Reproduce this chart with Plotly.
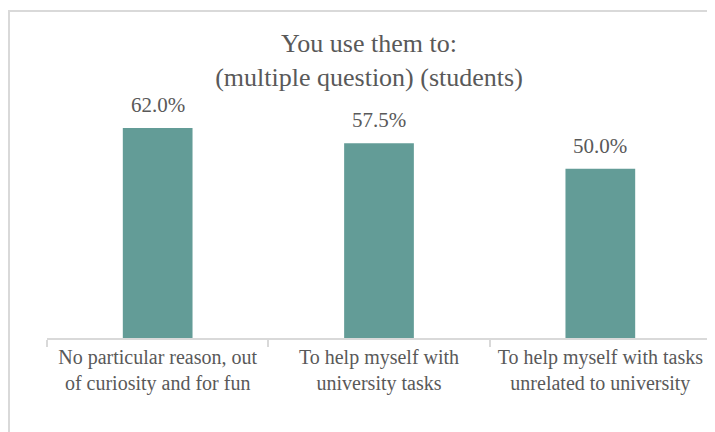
import plotly.graph_objects as go

categories = ["No particular reason, out<br>of curiosity and for fun",
              "To help myself with<br>university tasks",
              "To help myself with tasks<br>unrelated to university"]
values = [62.0, 57.5, 50.0]
labels = [f"{v:.1f}%" for v in values]

title_text = "You use them to:<br>(multiple question) (students)"

BAR = "#639C97"
GRAY = "#595959"
LINE = "#d9d9d9"
FONT = "Liberation Serif, Times New Roman, serif"

# page has an 8px body margin; figure coordinates are offset accordingly
W, H = 707, 424
L, T = 39, 93
PW, PH = 664, 237

fig = go.Figure(go.Bar(x=categories, y=values, marker=dict(color=BAR, line=dict(width=0)),
                       width=0.315, hoverinfo="skip"))

for c, v, t in zip(categories, values, labels):
    fig.add_annotation(x=c, y=v, text=t, showarrow=False, yanchor="bottom",
                       yshift=9, font=dict(family=FONT, size=21, color=GRAY))

fig.add_shape(type="rect", xref="paper", yref="paper",
              x0=(1 - L) / PW, x1=1.2, y0=-1.0, y1=1 + (T - 3) / PH,
              line=dict(color=LINE, width=2), fillcolor="rgba(0,0,0,0)", layer="below")

fig.update_layout(
    width=W, height=H,
    margin=dict(l=L, r=W - L - PW, t=T, b=H - T - PH),
    paper_bgcolor="white", plot_bgcolor="white",
    showlegend=False,
    title=dict(text=title_text, x=361 / W, xanchor="center", y=1 - 44 / H, yanchor="middle",
               font=dict(family=FONT, size=26, color=GRAY)),
    xaxis=dict(showline=True, linecolor=LINE, linewidth=1.5, ticks="outside",
               tickson="boundaries", ticklen=7, tickcolor=LINE, tickwidth=1.5,
               tickfont=dict(family=FONT, size=20, color=GRAY), showgrid=False,
               range=[-0.5, 2.5]),
    yaxis=dict(range=[0, 70], visible=False, showgrid=False),
)

fig.write_html("out.html")
